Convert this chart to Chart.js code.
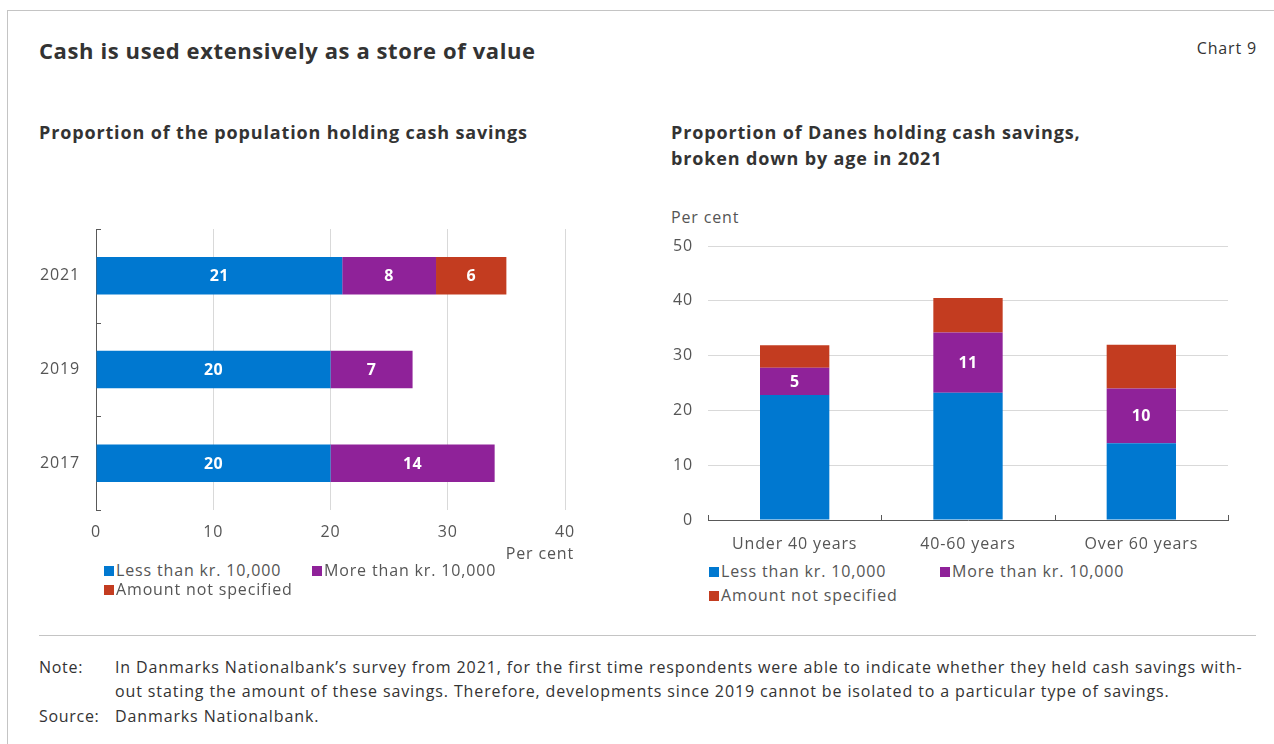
<!DOCTYPE html>
<html>
<head>
<meta charset="utf-8">
<title>Cash is used extensively as a store of value</title>
<script src="https://cdn.jsdelivr.net/npm/chart.js@4.4.0/dist/chart.umd.min.js"></script>
<style>
  html, body { margin: 0; padding: 0; background: #fff; }
  body { width: 1274px; height: 744px; position: relative; overflow: hidden;
         font-family: "Open Sans", "Noto Sans", sans-serif; color: #333; letter-spacing: 0.85px; }
  .frame { position: absolute; left: 7px; top: 10px; width: 1280px; height: 760px;
           border-left: 1px solid #c4c4c4; border-top: 1px solid #c4c4c4; }
  .txt { position: absolute; white-space: nowrap; }
  .title { left: 39px; top: 35px; font-size: 22px; font-weight: 700; line-height: 30px; color: #333; letter-spacing: 0.6px; }
  .chartno { right: 17px; top: 37px; font-size: 16px; line-height: 22px; color: #333; }
  .sub { font-size: 18px; font-weight: 700; line-height: 26px; color: #333; letter-spacing: 0.85px; }
  .unit { font-size: 16px; line-height: 22px; color: #555; }
  .box { position: absolute; }
  .legend { position: absolute; font-size: 16px; color: #555; line-height: 20px; }
  .legend .item { position: absolute; white-space: nowrap; }
  .legend .sw { display: inline-block; width: 10px; height: 10px; margin-right: 2px; vertical-align: 0px; }
  .rule { position: absolute; left: 39px; top: 635px; width: 1217px; height: 1px; background: #c4c4c4; }
  .note { position: absolute; left: 39px; font-size: 16px; line-height: 20px; color: #333; white-space: nowrap; letter-spacing: 0.88px; }
  .note span.k { display: inline-block; width: 76px; letter-spacing: 0.7px; }
</style>
</head>
<body>
<div class="frame"></div>
<div class="txt title">Cash is used extensively as a store of value</div>
<div class="txt chartno">Chart 9</div>

<div class="txt sub" style="left:39px;top:119px;">Proportion of the population holding cash savings</div>
<div class="txt sub" style="left:671px;top:119px;">Proportion of Danes holding cash savings,<br>broken down by age in 2021</div>

<div class="box" style="left:30px;top:220px;width:560px;height:330px;"><canvas id="yearChart"></canvas></div>
<div class="txt unit" style="right:700px;top:542px;">Per cent</div>
<div class="legend" id="yearLegend" style="left:104px;top:560px;"></div>

<div class="txt unit" style="left:671px;top:206px;">Per cent</div>
<div class="box" style="left:660px;top:225px;width:600px;height:330px;"><canvas id="ageChart"></canvas></div>
<div class="legend" id="ageLegend" style="left:709px;top:561px;"></div>

<div class="rule"></div>
<div class="note" style="top:657px;"><span class="k">Note:</span>In Danmarks Nationalbank’s survey from 2021, for the first time respondents were able to indicate whether they held cash savings with-</div>
<div class="note" style="top:681px;"><span class="k"></span>out stating the amount of these savings. Therefore, developments since 2019 cannot be isolated to a particular type of savings.</div>
<div class="note" style="top:706px;"><span class="k">Source:</span>Danmarks Nationalbank.</div>

<script>
// Series shared by both panels
const seriesNames = ['Less than kr. 10,000', 'More than kr. 10,000', 'Amount not specified'];
const seriesColors = ['#0078d0', '#8f2299', '#c33c20'];

// Left panel: share of the population holding cash savings, per survey year
const years = ['2021', '2019', '2017'];
const yearLess = [21, 20, 20];
const yearMore = [8, 7, 14];
const yearUnspecified = [6, null, null];
const yearTicks = [0, 10, 20, 30, 40];

// Right panel: share of Danes holding cash savings by age, 2021
const ageGroups = ['Under 40 years', '40-60 years', 'Over 60 years'];
const ageLess = [22.8, 23.2, 14];
const ageMore = [5, 11, 10];
const ageUnspecified = [4.1, 6.3, 8];
const ageTicks = [0, 10, 20, 30, 40, 50];

const FONT = '"Open Sans", "Noto Sans", sans-serif';
const TICK_COLOR = '#555';
const GRID_COLOR = '#d9d9d9';
const AXIS_COLOR = '#595959';

// Slightly open tracking for all canvas text
const tracking = {
  id: 'tracking',
  beforeDraw(chart) { chart.ctx.letterSpacing = '0.85px'; }
};

// White value labels centred in the segments of datasets flagged with showValues
const valueLabels = {
  id: 'valueLabels',
  afterDatasetsDraw(chart) {
    const ctx = chart.ctx;
    ctx.save();
    ctx.letterSpacing = '0.4px';
    ctx.font = 'bold 16px ' + FONT;
    ctx.fillStyle = '#fff';
    ctx.textAlign = 'center';
    ctx.textBaseline = 'middle';
    chart.data.datasets.forEach((ds, i) => {
      if (!ds.showValues) return;
      chart.getDatasetMeta(i).data.forEach((bar, j) => {
        const v = ds.data[j];
        if (v === null || v === undefined) return;
        const p = bar.getCenterPoint();
        ctx.fillText(String(Math.round(v)), p.x, p.y + 1);
      });
    });
    ctx.restore();
  }
};

// Short tick marks on the category axis at category boundaries, pointing into the plot
const innerTicks = {
  id: 'innerTicks',
  afterDraw(chart, args, opts) {
    const scale = chart.scales[opts.axis];
    const ctx = chart.ctx;
    const n = chart.data.labels.length;
    ctx.save();
    ctx.strokeStyle = AXIS_COLOR;
    ctx.lineWidth = 1;
    ctx.beginPath();
    for (let i = 0; i <= n; i++) {
      const p = Math.round(scale.getPixelForValue(i - 0.5)) + 0.5;
      if (scale.isHorizontal()) {
        const y = chart.chartArea.bottom;
        ctx.moveTo(p, y); ctx.lineTo(p, y - opts.length);
      } else {
        const x = chart.chartArea.left;
        ctx.moveTo(x, p); ctx.lineTo(x + opts.length, p);
      }
    }
    ctx.stroke();
    ctx.restore();
  }
};

// Fixed axis box sizes, with no extra label overhang padding
function fixBox(w, h) {
  return s => {
    if (w !== null) s.width = w;
    if (h !== null) s.height = h;
    s.paddingTop = 0; s.paddingBottom = 0; s.paddingLeft = 0; s.paddingRight = 0;
  };
}

function makeDatasets(values, labelled) {
  return values.map((data, i) => ({
    label: seriesNames[i],
    data: data,
    backgroundColor: seriesColors[i],
    borderWidth: 0,
    categoryPercentage: 1,
    barPercentage: 0.4,
    showValues: labelled[i]
  }));
}

function buildLegend(el, rows, rowGap) {
  rows.forEach((row, r) => {
    row.forEach(([idx, left]) => {
      const d = document.createElement('div');
      d.className = 'item';
      d.style.left = left + 'px';
      d.style.top = (r * rowGap) + 'px';
      d.innerHTML = '<span class="sw" style="background:' + seriesColors[idx] + '"></span>' + seriesNames[idx];
      el.appendChild(d);
    });
  });
}

Chart.defaults.font.family = FONT;
Chart.defaults.animation = false;

new Chart(document.getElementById('yearChart'), {
  type: 'bar',
  data: {
    labels: years,
    datasets: makeDatasets([yearLess, yearMore, yearUnspecified], [true, true, true])
  },
  options: {
    indexAxis: 'y',
    responsive: true,
    maintainAspectRatio: false,
    layout: { padding: { top: 9, right: 25, bottom: 0, left: 0 } },
    plugins: {
      legend: { display: false },
      tooltip: { enabled: false },
      innerTicks: { axis: 'y', length: 5 }
    },
    scales: {
      x: {
        stacked: true,
        min: yearTicks[0],
        max: yearTicks[yearTicks.length - 1],
        afterBuildTicks: s => { s.ticks = yearTicks.map(v => ({ value: v })); },
        afterFit: fixBox(null, 40),
        grid: {
          color: c => (c.tick && c.tick.value === 0 ? 'rgba(0,0,0,0)' : GRID_COLOR),
          drawTicks: false
        },
        border: { display: false },
        ticks: { color: TICK_COLOR, font: { size: 16 }, padding: 13 }
      },
      y: {
        stacked: true,
        afterFit: fixBox(66, null),
        grid: { drawOnChartArea: false, drawTicks: false },
        border: { display: true, color: AXIS_COLOR, width: 1 },
        ticks: { color: TICK_COLOR, font: { size: 16 }, padding: 16 }
      }
    }
  },
  plugins: [tracking, valueLabels, innerTicks]
});

new Chart(document.getElementById('ageChart'), {
  type: 'bar',
  data: {
    labels: ageGroups,
    datasets: makeDatasets([ageLess, ageMore, ageUnspecified], [false, true, false])
  },
  options: {
    responsive: true,
    maintainAspectRatio: false,
    layout: { padding: { top: 21, right: 32, bottom: 0, left: 0 } },
    plugins: {
      legend: { display: false },
      tooltip: { enabled: false },
      innerTicks: { axis: 'x', length: 5 }
    },
    scales: {
      x: {
        stacked: true,
        afterFit: fixBox(null, 35),
        grid: { drawOnChartArea: false, drawTicks: false },
        border: { display: true, color: AXIS_COLOR, width: 1 },
        ticks: { color: TICK_COLOR, font: { size: 16 }, padding: 15 }
      },
      y: {
        stacked: true,
        min: ageTicks[0],
        max: ageTicks[ageTicks.length - 1],
        afterBuildTicks: s => { s.ticks = ageTicks.map(v => ({ value: v })); },
        afterFit: fixBox(48, null),
        grid: {
          color: c => (c.tick && c.tick.value === 0 ? 'rgba(0,0,0,0)' : GRID_COLOR),
          drawTicks: false
        },
        border: { display: false },
        ticks: { color: TICK_COLOR, font: { size: 16 }, padding: 15 }
      }
    }
  },
  plugins: [tracking, valueLabels, innerTicks]
});

buildLegend(document.getElementById('yearLegend'), [[[0, 0], [1, 208]], [[2, 0]]], 19);
buildLegend(document.getElementById('ageLegend'), [[[0, 0], [1, 231]], [[2, 0]]], 24);
</script>
</body>
</html>
